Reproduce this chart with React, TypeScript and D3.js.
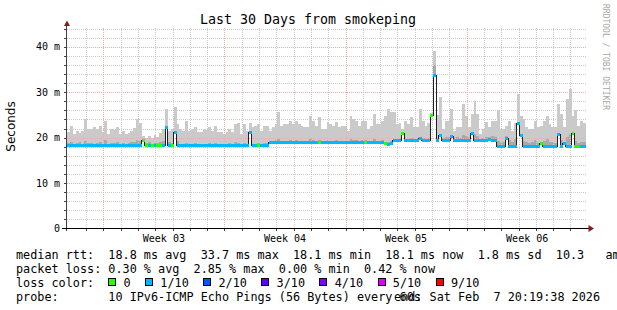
import React from "react";
import * as d3 from "d3";

const W = 617;
const H = 310;

// 4-hour consolidated steps over 30 days (180 bars)
const smokeMax = [
  21.2, 22.6, 20.8, 21.4, 21.0, 21.5, 24.1, 21.8, 22.0, 22.3,
  21.8, 22.5, 21.2, 23.6, 20.8, 22.0, 21.7, 22.4, 20.8, 21.4,
  20.8, 21.0, 21.5, 22.2, 24.1, 23.2, 20.3, 20.0, 20.4, 19.9,
  20.6, 20.1, 21.0, 22.0, 26.4, 21.5, 21.9, 26.7, 23.0, 21.9,
  21.5, 23.6, 21.5, 21.9, 22.3, 21.2, 21.2, 21.9, 21.7, 22.3,
  21.5, 22.6, 21.2, 21.2, 20.8, 21.2, 21.9, 21.2, 23.1, 23.3,
  20.8, 22.9, 21.5, 23.3, 22.3, 22.6, 23.1, 21.5, 22.6, 22.6,
  21.5, 22.3, 23.0, 25.6, 22.6, 23.1, 23.1, 23.7, 22.9, 23.6,
  23.0, 22.6, 22.3, 22.3, 24.8, 23.6, 22.6, 24.5, 21.9, 22.0,
  23.4, 23.0, 22.5, 23.5, 22.4, 22.6, 22.6, 21.5, 24.8, 24.1,
  23.7, 22.6, 23.7, 23.7, 21.9, 22.6, 25.2, 22.9, 22.9, 23.7,
  24.8, 26.3, 25.6, 25.6, 22.9, 23.3, 21.9, 23.7, 22.9, 24.5,
  22.3, 22.3, 26.3, 23.7, 22.6, 23.3, 25.5, 39.1, 25.0, 29.0,
  22.0, 23.7, 23.7, 26.3, 21.5, 22.3, 22.3, 27.4, 24.8, 22.3,
  25.2, 28.1, 25.2, 20.8, 21.9, 23.4, 22.3, 23.7, 23.7, 26.1,
  21.9, 21.9, 22.6, 23.7, 21.5, 23.3, 29.7, 24.8, 24.1, 22.3,
  21.9, 21.9, 23.7, 22.3, 22.6, 23.7, 24.8, 22.9, 22.3, 22.3,
  27.5, 25.2, 22.3, 28.5, 30.8, 24.8, 26.0, 22.6, 23.7, 23.3,
];

const smokeDark = [
  18.8, 19.0, 18.6, 18.9, 19.1, 18.7, 19.3, 18.8, 18.9, 18.6,
  18.8, 19.1, 18.7, 19.4, 18.6, 18.9, 18.8, 19.0, 18.6, 18.8,
  18.7, 18.8, 19.0, 19.1, 19.5, 19.3, 19.6, 18.8, 19.0, 18.7,
  18.9, 18.8, 19.1, 19.3, 22.0, 19.0, 18.8, 21.5, 19.2, 18.7,
  18.6, 18.9, 18.7, 18.6, 18.8, 18.6, 18.6, 18.7, 18.6, 18.8,
  18.6, 18.9, 18.6, 18.6, 18.6, 18.7, 18.8, 18.6, 19.0, 18.9,
  18.6, 18.8, 18.7, 21.2, 18.7, 18.6, 18.8, 18.7, 18.9, 18.8,
  19.3, 19.2, 19.4, 19.6, 19.2, 19.3, 19.2, 19.5, 19.2, 19.4,
  19.3, 19.2, 19.2, 19.3, 19.7, 19.4, 19.2, 19.5, 19.2, 19.2,
  19.4, 19.2, 19.3, 19.5, 19.2, 19.3, 19.2, 19.2, 19.6, 19.5,
  19.4, 19.2, 19.5, 19.4, 19.2, 19.3, 19.7, 19.3, 19.2, 19.4,
  19.1, 19.0, 19.2, 19.7, 19.8, 19.9, 20.8, 19.8, 19.7, 20.0,
  19.8, 19.7, 20.0, 19.9, 19.8, 19.9, 24.8, 36.0, 19.9, 20.6,
  20.0, 20.2, 20.1, 20.4, 19.9, 20.1, 20.0, 20.6, 20.3, 20.1,
  20.8, 20.7, 20.3, 19.8, 20.0, 20.2, 20.1, 20.3, 20.2, 19.3,
  18.8, 19.0, 20.3, 19.4, 19.1, 19.6, 23.2, 20.6, 19.3, 19.0,
  18.8, 19.1, 19.4, 18.9, 19.0, 19.3, 19.6, 19.1, 19.0, 18.8,
  20.6, 19.4, 19.1, 20.2, 20.8, 20.8, 19.2, 18.8, 19.1, 19.0,
];

const median = [
  18.2, 18.2, 18.2, 18.2, 18.2, 18.2, 18.2, 18.2, 18.2, 18.2,
  18.2, 18.2, 18.2, 18.2, 18.2, 18.2, 18.2, 18.2, 18.2, 18.2,
  18.2, 18.2, 18.2, 18.2, 18.2, 18.2, 19.4, 18.2, 18.2, 18.2,
  18.2, 18.2, 18.2, 18.2, 22.3, 18.2, 18.2, 21.2, 18.2, 18.2,
  18.2, 18.2, 18.2, 18.2, 18.2, 18.2, 18.2, 18.2, 18.2, 18.2,
  18.2, 18.2, 18.2, 18.2, 18.2, 18.2, 18.2, 18.2, 18.2, 18.2,
  18.2, 18.2, 18.2, 21.2, 18.3, 18.3, 18.3, 18.3, 18.3, 18.3,
  18.9, 18.9, 18.9, 18.9, 18.9, 18.9, 18.9, 18.9, 18.9, 18.9,
  18.9, 18.9, 18.9, 18.9, 18.9, 18.9, 18.9, 18.9, 18.9, 18.9,
  18.9, 18.9, 18.9, 18.9, 18.9, 18.9, 18.9, 18.9, 18.9, 18.9,
  18.9, 18.9, 18.9, 18.9, 18.9, 18.9, 18.9, 18.9, 18.9, 18.9,
  18.6, 18.4, 18.6, 19.3, 19.3, 19.3, 20.8, 19.3, 19.3, 19.3,
  19.3, 19.3, 19.8, 19.3, 19.3, 19.3, 24.8, 33.7, 19.3, 20.4,
  19.3, 19.3, 19.3, 20.2, 19.3, 19.3, 19.3, 19.3, 19.3, 19.3,
  20.8, 19.3, 19.3, 19.3, 19.3, 19.3, 19.6, 19.3, 19.3, 18.1,
  18.1, 18.1, 19.9, 18.1, 18.1, 18.1, 23.2, 20.4, 18.1, 18.1,
  18.1, 18.1, 18.1, 18.1, 18.7, 18.1, 18.1, 18.1, 18.1, 18.1,
  20.6, 18.1, 18.8, 18.1, 18.1, 20.8, 18.1, 18.1, 18.1, 18.1,
];

// index into lossColors: 0 = no loss, 1 = 1/10
const lossBin = [
  1, 1, 1, 1, 1, 1, 1, 1, 1, 1,
  1, 1, 1, 1, 1, 1, 1, 1, 1, 1,
  1, 1, 1, 1, 1, 1, 0, 0, 1, 0,
  1, 0, 0, 1, 1, 1, 0, 1, 1, 1,
  1, 1, 1, 1, 1, 1, 1, 1, 1, 1,
  1, 1, 1, 1, 1, 1, 1, 1, 1, 1,
  1, 1, 1, 1, 1, 1, 0, 1, 1, 1,
  1, 1, 1, 1, 1, 1, 1, 1, 1, 1,
  1, 1, 1, 1, 1, 1, 1, 0, 1, 1,
  1, 1, 1, 1, 1, 1, 1, 1, 1, 1,
  1, 1, 1, 0, 1, 1, 1, 1, 1, 1,
  0, 1, 1, 1, 1, 1, 0, 1, 1, 1,
  1, 1, 1, 1, 1, 1, 0, 1, 1, 1,
  1, 1, 1, 1, 1, 1, 1, 1, 1, 1,
  1, 1, 1, 1, 1, 1, 1, 1, 1, 1,
  1, 1, 1, 1, 1, 1, 1, 1, 1, 1,
  1, 1, 1, 1, 0, 1, 1, 1, 1, 1,
  1, 1, 1, 1, 1, 0, 0, 0, 1, 1,
];

const totalDays = 30;
const firstWeekStart = 2.1; // days after graph start
const weekLabels = ["Week 03", "Week 04", "Week 05", "Week 06"];
const yMax = 44;
const yLabelTicks = [0, 10, 20, 30, 40];

const lossColors = ["#26ff00", "#00b8ff", "#0059ff", "#5e00ff", "#7e00ff", "#dd00ff", "#ff0000"];
const lossLabels = ["0", "1/10", "2/10", "3/10", "4/10", "5/10", "9/10"];

const title = "Last 30 Days from smokeping";
const line1 = "median rtt:  18.8 ms avg  33.7 ms max  18.1 ms min  18.1 ms now  1.8 ms sd  10.3   am/s";
const line2 = "packet loss: 0.30 % avg  2.85 % max  0.00 % min  0.42 % now";
const line3 = "loss color:";
const line4 = "probe:       10 IPv6-ICMP Echo Pings (56 Bytes) every 60s";
const endText = "end: Sat Feb  7 20:19:38 2026";

const MONO = "'DejaVu Sans Mono', monospace";
const SANS = "'DejaVu Sans', sans-serif";

export default function App() {
  const x = d3.scaleLinear().domain([0, totalDays]).range([67, 586]);
  const y = d3.scaleLinear().domain([0, yMax]).range([228.5, 28.5]);
  const n = median.length;
  const step = totalDays / n;

  const minorDays = d3.range(firstWeekStart - 2, totalDays, 1).filter((d) => d > 0.5);
  const majorDays = d3.range(firstWeekStart, totalDays, 7);
  const minorY = d3.range(2, yMax + 1, 2).filter((v) => v % 10 !== 0);
  const majorY = [10, 20, 30, 40];

  const medPts: [number, number][] = median.map((m, i) => [i * step, m]);
  medPts.push([totalDays, median[n - 1]]);
  const medLine = d3
    .line<[number, number]>()
    .x((d) => x(d[0]))
    .y((d) => y(d[1]))
    .curve(d3.curveStepAfter)(medPts) as string;

  const cw = 11.8 * 0.602;
  let bx = 16 + 13 * cw;
  const legendItems = lossLabels.map((lab, k) => {
    const item = { bx, tx: bx + 15.2, lab, color: lossColors[k] };
    bx = item.tx + lab.length * cw + 14.5;
    return item;
  });

  const gx0 = 67;
  const gx1 = 587;
  const gyTop = 28;
  const gyBot = 228;
  const px = (v: number) => Math.round(v) + 0.5;

  return (
    <svg
      width={W}
      height={H}
      style={{ position: "absolute", left: 0, top: 0, background: "#fff" }}
      xmlns="http://www.w3.org/2000/svg"
    >
      <rect x={0} y={0} width={W} height={H} fill="#ffffff" />

      {/* smoke */}
      <g shapeRendering="crispEdges">
        {smokeMax.map((v, i) => (
          <rect
            key={"s" + i}
            x={x(i * step)}
            width={x((i + 1) * step) - x(i * step)}
            y={y(v)}
            height={y(median[i]) - y(v)}
            fill="#cacaca"
          />
        ))}
        {smokeDark.map((v, i) => (
          <rect
            key={"d" + i}
            x={x(i * step)}
            width={x((i + 1) * step) - x(i * step)}
            y={y(v)}
            height={Math.max(0, y(median[i]) - y(v))}
            fill="#a9a9a9"
          />
        ))}
      </g>

      {/* grid */}
      <g shapeRendering="crispEdges" strokeWidth={1} strokeDasharray="1,1">
        {minorDays
          .filter((d) => !majorDays.some((m) => Math.abs(m - d) < 0.01))
          .map((d, i) => (
            <line key={"vx" + i} x1={px(x(d))} x2={px(x(d))} y1={gyTop} y2={gyBot} stroke="#cbcbcb" />
          ))}
        {minorY.map((v, i) => (
          <line key={"hy" + i} x1={gx0} x2={gx1} y1={px(y(v))} y2={px(y(v))} stroke="#cbcbcb" />
        ))}
        {majorDays.map((d, i) => (
          <line key={"mx" + i} x1={px(x(d))} x2={px(x(d))} y1={gyTop} y2={gyBot} stroke="#f0aaaa" />
        ))}
        {majorY.map((v, i) => (
          <line key={"my" + i} x1={gx0} x2={gx1} y1={px(y(v))} y2={px(y(v))} stroke="#f0aaaa" />
        ))}
      </g>

      {/* median */}
      <path d={medLine} fill="none" stroke="#202020" strokeWidth={1} shapeRendering="crispEdges" />
      <g shapeRendering="crispEdges">
        {median.map((m, i) => (
          <rect
            key={"m" + i}
            x={x(i * step)}
            width={x((i + 1) * step) - x(i * step)}
            y={y(m) - 1.5}
            height={3}
            fill={lossColors[lossBin[i]]}
          />
        ))}
      </g>

      {/* axes */}
      <g shapeRendering="crispEdges" stroke="#404040">
        {minorY.concat(majorY).map((v, i) => (
          <line key={"ty" + i} x1={64} x2={67} y1={px(y(v))} y2={px(y(v))} />
        ))}
        {minorDays.map((d, i) => (
          <line key={"tx" + i} x1={px(x(d))} x2={px(x(d))} y1={228} y2={231} />
        ))}
        <line x1={66.5} x2={66.5} y1={231} y2={24} />
        <line x1={62} x2={589} y1={228.5} y2={228.5} stroke="#000" />
      </g>
      <path d="M64,26 L70,26 L67,20.5 Z" fill="#8b1a1a" />
      <path d="M588.5,225 L588.5,232 L594,228.5 Z" fill="#8b1a1a" />

      {/* y labels */}
      {yLabelTicks.map((v) => (
        <text
          key={"yl" + v}
          x={60}
          y={y(v) + 3.6}
          textAnchor="end"
          fontFamily={MONO}
          fontSize={10}
          fill="#000"
          style={{ whiteSpace: "pre" }}
        >
          {v === 0 ? "0" : `${v} m`}
        </text>
      ))}

      {/* week labels */}
      {weekLabels.map((lab, i) => (
        <text
          key={lab}
          x={x(majorDays[i] + 3.5)}
          y={242}
          textAnchor="middle"
          fontFamily={MONO}
          fontSize={10}
          fill="#000"
        >
          {lab}
        </text>
      ))}

      {/* title */}
      <text x={308} y={24} textAnchor="middle" fontFamily={MONO} fontSize={13.3} fill="#000">
        {title}
      </text>

      {/* y axis title */}
      <text
        transform="translate(15,126.5) rotate(-90)"
        textAnchor="middle"
        fontFamily={SANS}
        fontSize={12}
        fill="#000"
      >
        Seconds
      </text>

      {/* watermark */}
      <text
        transform="translate(603,4) rotate(90)"
        fontFamily={MONO}
        fontSize={8}
        fill="#a8a8a8"
      >
        RRDTOOL / TOBI OETIKER
      </text>

      {/* legend */}
      <g fontFamily={MONO} fontSize={11.8} fill="#000" style={{ whiteSpace: "pre" }}>
        <text x={16} y={259.3} style={{ whiteSpace: "pre" }}>{line1}</text>
        <text x={16} y={273.2} style={{ whiteSpace: "pre" }}>{line2}</text>
        <text x={16} y={287.1} style={{ whiteSpace: "pre" }}>{line3}</text>
        {legendItems.map((it) => (
          <g key={it.lab}>
            <rect x={Math.round(it.bx) + 0.5} y={278.5} width={7} height={7} fill={it.color} stroke="#000" strokeWidth={1} shapeRendering="crispEdges" />
            <text x={it.tx} y={287.1}>{it.lab}</text>
          </g>
        ))}
        <text x={16} y={301} style={{ whiteSpace: "pre" }}>{line4}</text>
        <text x={600} y={301} textAnchor="end" style={{ whiteSpace: "pre" }}>{endText}</text>
      </g>
    </svg>
  );
}
